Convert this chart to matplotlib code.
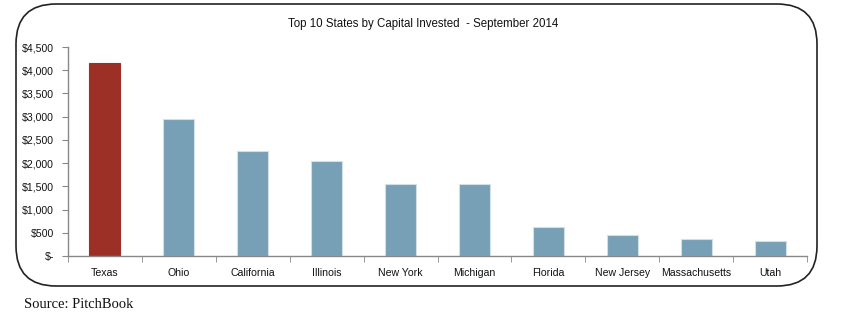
import matplotlib
matplotlib.use("Agg")
import matplotlib.pyplot as plt
from matplotlib.patches import FancyBboxPatch
from matplotlib.ticker import FuncFormatter, MultipleLocator

states = ["Texas", "Ohio", "California", "Illinois", "New York", "Michigan",
          "Florida", "New Jersey", "Massachusetts", "Utah"]
capital = [4160, 2960, 2255, 2045, 1557, 1557, 624, 459, 366, 323]
title = "Top 10 States by Capital Invested  - September 2014"
source = "Source: PitchBook"

sans = "Liberation Sans"

fig = plt.figure(figsize=(8.49, 3.22), dpi=100)
W, H = 849, 322

# background overlay axes in pixel units for the rounded frame
bg = fig.add_axes([0, 0, 1, 1])
bg.set_xlim(0, W)
bg.set_ylim(H, 0)
bg.axis("off")
box = FancyBboxPatch((16, 4), 817 - 16, 286 - 4,
                     boxstyle="round,pad=0,rounding_size=40",
                     fill=False, edgecolor="#222222", linewidth=1.2)
bg.add_patch(box)

ax = fig.add_axes([68 / W, (322 - 256) / H, (807 - 68) / W, (256 - 47) / H])
x = list(range(len(states)))
colors = ["#9C3026"] + ["#779FB5"] * (len(states) - 1)
edges = ["#9C3026"] + ["#D3DFE7"] * (len(states) - 1)
ax.bar(x, capital, width=0.42, color=colors, edgecolor=edges, linewidth=0.8)

ax.set_xlim(-0.5, len(states) - 0.5)
ax.set_ylim(0, 4500)
ax.yaxis.set_major_locator(MultipleLocator(500))
ax.yaxis.set_major_formatter(FuncFormatter(lambda v, p: "$-" if v == 0 else f"${v:,.0f}"))
ax.set_xticks(x)
ax.set_xticklabels(states)
ax.set_xticks([i - 0.5 for i in range(len(states) + 1)], minor=True)
ax.tick_params(axis="x", which="major", length=0, pad=9)
ax.tick_params(axis="x", which="minor", length=4, color="#888888", direction="out")
ax.tick_params(axis="y", length=4, color="#888888", direction="out", pad=6)
for lbl in ax.get_xticklabels() + ax.get_yticklabels():
    lbl.set_fontfamily(sans)
    lbl.set_fontsize(7.6)
    lbl.set_color("#111111")

for s in ["top", "right"]:
    ax.spines[s].set_visible(False)
for s in ["left", "bottom"]:
    ax.spines[s].set_color("#888888")
    ax.spines[s].set_linewidth(1.0)

fig.text(423 / W, 1 - 24 / H, title, ha="center", va="center",
         fontfamily=sans, fontsize=8.3, color="#111111")
fig.text(24 / W, 1 - 305 / H, source, ha="left", va="center",
         fontfamily="Liberation Serif", fontsize=10.5, color="#111111")

fig.savefig("out.png", dpi=100)
